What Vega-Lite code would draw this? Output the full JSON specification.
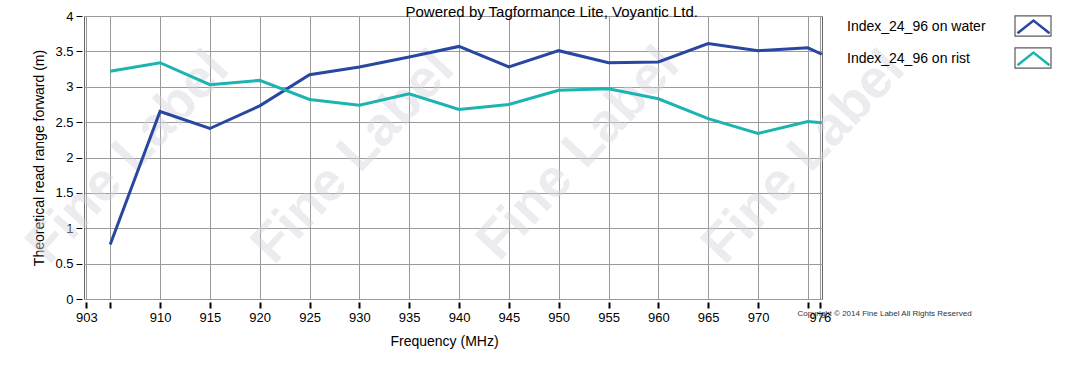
{
  "$schema": "https://vega.github.io/schema/vega-lite/v6.json",
  "width": 738,
  "height": 283,
  "autosize": {"type": "none"},
  "padding": {"left": 84, "top": 16, "right": 250, "bottom": 69},
  "background": "white",
  "config": {
    "font": "Liberation Sans",
    "view": {"stroke": "#666", "strokeWidth": 1},
    "axis": {"labelColor": "#000", "titleColor": "#000", "titleFontWeight": "normal", "labelFont": "Liberation Sans", "titleFont": "Liberation Sans"}
  },
  "resolve": {"axis": {"x": "independent", "y": "independent"}},
  "datasets": {
    "series": [
      {"freq": 905, "range": 0.77, "series": "Index_24_96 on water"},
      {"freq": 910, "range": 2.65, "series": "Index_24_96 on water"},
      {"freq": 915, "range": 2.41, "series": "Index_24_96 on water"},
      {"freq": 920, "range": 2.73, "series": "Index_24_96 on water"},
      {"freq": 925, "range": 3.17, "series": "Index_24_96 on water"},
      {"freq": 930, "range": 3.28, "series": "Index_24_96 on water"},
      {"freq": 935, "range": 3.42, "series": "Index_24_96 on water"},
      {"freq": 940, "range": 3.57, "series": "Index_24_96 on water"},
      {"freq": 945, "range": 3.28, "series": "Index_24_96 on water"},
      {"freq": 950, "range": 3.51, "series": "Index_24_96 on water"},
      {"freq": 955, "range": 3.34, "series": "Index_24_96 on water"},
      {"freq": 960, "range": 3.35, "series": "Index_24_96 on water"},
      {"freq": 965, "range": 3.61, "series": "Index_24_96 on water"},
      {"freq": 970, "range": 3.51, "series": "Index_24_96 on water"},
      {"freq": 975, "range": 3.55, "series": "Index_24_96 on water"},
      {"freq": 976.4, "range": 3.46, "series": "Index_24_96 on water"},
      {"freq": 905, "range": 3.22, "series": "Index_24_96 on rist"},
      {"freq": 910, "range": 3.34, "series": "Index_24_96 on rist"},
      {"freq": 915, "range": 3.03, "series": "Index_24_96 on rist"},
      {"freq": 920, "range": 3.09, "series": "Index_24_96 on rist"},
      {"freq": 925, "range": 2.82, "series": "Index_24_96 on rist"},
      {"freq": 930, "range": 2.74, "series": "Index_24_96 on rist"},
      {"freq": 935, "range": 2.90, "series": "Index_24_96 on rist"},
      {"freq": 940, "range": 2.68, "series": "Index_24_96 on rist"},
      {"freq": 945, "range": 2.75, "series": "Index_24_96 on rist"},
      {"freq": 950, "range": 2.95, "series": "Index_24_96 on rist"},
      {"freq": 955, "range": 2.97, "series": "Index_24_96 on rist"},
      {"freq": 960, "range": 2.83, "series": "Index_24_96 on rist"},
      {"freq": 965, "range": 2.55, "series": "Index_24_96 on rist"},
      {"freq": 970, "range": 2.34, "series": "Index_24_96 on rist"},
      {"freq": 975, "range": 2.51, "series": "Index_24_96 on rist"},
      {"freq": 976.4, "range": 2.49, "series": "Index_24_96 on rist"}
    ],
    "boxes": [
      {"box": "box water"},
      {"box": "box rist"}
    ],
    "watermark": [
      {"freq": 906.8, "range": 2.0, "text": "Fine Label"},
      {"freq": 929.4, "range": 2.0, "text": "Fine Label"},
      {"freq": 952.0, "range": 2.05, "text": "Fine Label"},
      {"freq": 974.6, "range": 2.0, "text": "Fine Label"}
    ],
    "notes": [
      {"freq": 949.3, "range": 3.98, "text": "Powered by Tagformance Lite, Voyantic Ltd.", "kind": "title"},
      {"freq": 982.7, "range": -0.205, "text": "Copyright © 2014 Fine Label All Rights Reserved", "kind": "copy"}
    ]
  },
  "layer": [
    {
      "data": {"name": "watermark"},
      "mark": {"type": "text", "angle": -47, "fontSize": 54, "fontWeight": "bold", "font": "Liberation Sans", "color": "#d6d6de", "opacity": 0.45, "align": "center", "baseline": "middle"},
      "encoding": {
        "x": {"field": "freq", "type": "quantitative", "scale": {"domain": [902.37, 976.42], "nice": false, "zero": false}, "axis": null},
        "y": {"field": "range", "type": "quantitative", "scale": {"domain": [0, 4], "nice": false}, "axis": null},
        "text": {"field": "text"}
      }
    },
    {
      "data": {"name": "series"},
      "mark": {"type": "line", "strokeWidth": 3, "clip": true},
      "encoding": {
        "x": {
          "field": "freq", "type": "quantitative",
          "scale": {"domain": [902.37, 976.42], "nice": false, "zero": false},
          "axis": {
            "title": "Frequency (MHz)",
            "values": [902.6, 905, 910, 915, 920, 925, 930, 935, 940, 945, 950, 955, 960, 965, 970, 975, 976.2],
            "labelExpr": "datum.value == 905 || datum.value == 975 ? '' : format(round(datum.value), 'd')",
            "labelFontSize": 13,
            "labelPadding": 3,
            "labelFlush": false,
            "labelOverlap": false,
            "grid": true,
            "gridColor": "#9a9a9a",
            "gridWidth": 1,
            "domain": false,
            "ticks": true,
            "tickColor": "#000",
            "tickWidth": 2,
            "tickSize": 6,
            "offset": 3,
            "titleFontSize": 14,
            "titlePadding": 10,
            "titleX": 360,
            "titleAnchor": "start",
            "titleAlign": "center"
          }
        },
        "y": {
          "field": "range", "type": "quantitative",
          "scale": {"domain": [0, 4], "nice": false},
          "axis": {
            "title": "Theoretical read range forward (m)",
            "values": [0, 0.5, 1, 1.5, 2, 2.5, 3, 3.5, 4],
            "format": ".1~f",
            "labelFontSize": 13,
            "labelPadding": 3,
            "labelFlush": false,
            "grid": true,
            "gridColor": "#9a9a9a",
            "gridWidth": 1,
            "domain": false,
            "tickColor": "#000",
            "tickWidth": 1,
            "tickSize": 6,
            "offset": 2,
            "titleFontSize": 14,
            "titlePadding": 8
          }
        },
        "color": {
          "field": "series", "type": "nominal",
          "scale": {"domain": ["Index_24_96 on water", "Index_24_96 on rist"], "range": ["#2747a1", "#1bb4b1"]},
          "legend": {
            "orient": "none",
            "legendX": 930,
            "legendY": -9,
            "title": null,
            "padding": 0,
            "symbolType": "M-0.89,0.38L0,-0.33L0.89,0.38",
            "symbolSize": 1296,
            "symbolStrokeWidth": 2.5,
            "symbolFillColor": "transparent",
            "labelOffset": -206,
            "labelAlign": "left",
            "labelFontSize": 14,
            "labelColor": "#000",
            "labelFont": "Liberation Sans",
            "rowPadding": -7
          }
        }
      }
    },
    {
      "data": {"name": "boxes"},
      "mark": {"type": "point", "opacity": 0, "filled": false},
      "encoding": {
        "shape": {
          "field": "box", "type": "nominal",
          "scale": {"domain": ["box water", "box rist"], "range": ["M-1,-0.56H1V0.56H-1Z", "M-1,-0.56H1V0.56H-1Z"]},
          "legend": {
            "orient": "none",
            "legendX": 930,
            "legendY": -9,
            "title": null,
            "padding": 0,
            "symbolSize": 1296,
            "symbolStrokeWidth": 1.2,
            "symbolStrokeColor": "#5a5a5a",
            "symbolFillColor": "transparent",
            "symbolOpacity": 1,
            "labelExpr": "''",
            "labelFontSize": 14,
            "rowPadding": -7
          }
        }
      }
    },
    {
      "data": {"name": "notes"},
      "transform": [{"filter": "datum.kind == 'title'"}],
      "mark": {"type": "text", "fontSize": 15, "font": "Liberation Sans", "color": "#000", "align": "center", "baseline": "alphabetic"},
      "encoding": {
        "x": {"field": "freq", "type": "quantitative", "scale": {"domain": [902.37, 976.42], "nice": false, "zero": false}, "axis": null},
        "y": {"field": "range", "type": "quantitative", "scale": {"domain": [0, 4], "nice": false}, "axis": null},
        "text": {"field": "text"}
      }
    },
    {
      "data": {"name": "notes"},
      "transform": [{"filter": "datum.kind == 'copy'"}],
      "mark": {"type": "text", "fontSize": 8, "font": "Liberation Sans", "color": "#333", "align": "center", "baseline": "middle"},
      "encoding": {
        "x": {"field": "freq", "type": "quantitative", "scale": {"domain": [902.37, 976.42], "nice": false, "zero": false}, "axis": null},
        "y": {"field": "range", "type": "quantitative", "scale": {"domain": [0, 4], "nice": false}, "axis": null},
        "text": {"field": "text"}
      }
    }
  ]
}
